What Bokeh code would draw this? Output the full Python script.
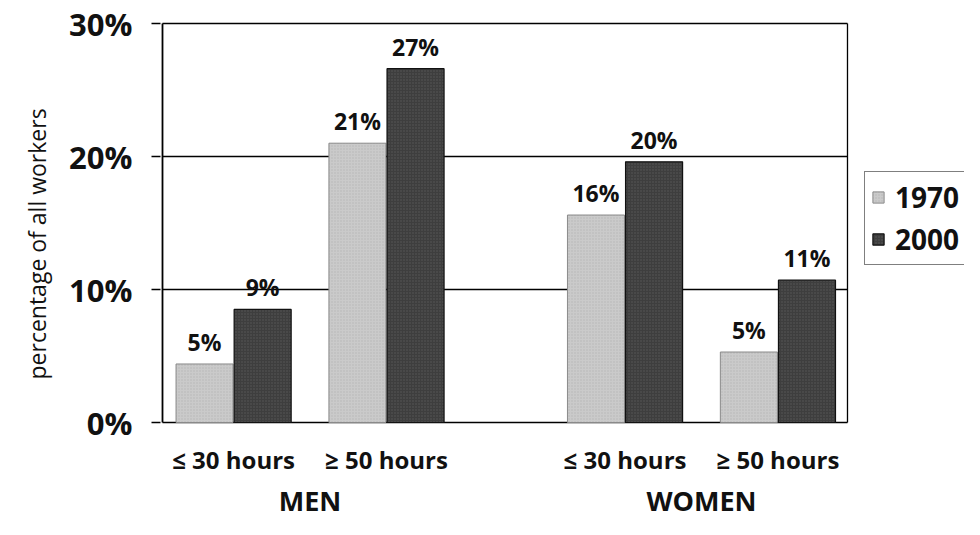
from bokeh.plotting import figure
from bokeh.models import (FixedTicker, Range1d, Legend, LegendItem, Title,
                          ColumnDataSource, PrintfTickFormatter)
from bokeh.embed import file_html
from bokeh.resources import INLINE
from bokeh.core.properties import value

# ---- data ----
genders = ["MEN", "WOMEN"]
hours = ["\u2264 30 hours", "\u2265 50 hours"]
years = ["1970", "2000"]
vals_1970 = [4.4, 21.0, 15.6, 5.3]
vals_2000 = [8.5, 26.6, 19.6, 10.7]
labels_1970 = ["5%", "21%", "16%", "5%"]
labels_2000 = ["9%", "27%", "20%", "11%"]
y_ticks = [0, 10, 20, 30]
y_title = "percentage of all workers"

FONT = "Open Sans"
INK = "#111111"
c1970 = "#cacaca"
c2000 = "#3e3e3e"

# ---- layout (pixel geometry -> data units) ----
W, H = 964, 519
MB_LEFT, MB_TOP = 160, 20
px_x = 152.9          # pixels per x unit
px_y = 13.3           # pixels per y unit (percent)
y_max = y_ticks[-1]
x_plot_end = 4.48     # right border of plotting box
x_start = -2 / px_x
x_end = x_start + (W - MB_LEFT) / px_x
y_end = y_max + 3 / px_y
y_start = y_end - (H - MB_TOP) / px_y

first = 0.465
gender_gap = 2.56
centers, cat_names = [], []
for g, gname in enumerate(genders):
    for s, h in enumerate(hours):
        centers.append(first + s + g * gender_gap)
        cat_names.append(h)
group_centers = [(centers[2 * g] + centers[2 * g + 1]) / 2 for g in range(len(genders))]
bw = 0.373
off = 0.19
cat_label_y = -37 / px_y
group_label_y = -78 / px_y

p = figure(width=W, height=H, output_backend="svg", toolbar_location=None,
           x_range=Range1d(x_start, x_end), y_range=Range1d(y_start, y_end),
           min_border_left=MB_LEFT, min_border_right=0, min_border_top=MB_TOP,
           min_border_bottom=0, x_axis_location=None)
p.outline_line_color = None
p.grid.visible = False
p.background_fill_color = "white"
p.border_fill_color = "white"

# gridlines / frame of the plotting box
p.segment(x0=0, x1=x_plot_end, y0=y_ticks, y1=y_ticks, line_color="black", line_width=1.3)
p.segment(x0=[0, x_plot_end], x1=[0, x_plot_end], y0=0, y1=y_max,
          line_color="black", line_width=[1.8, 1.3])

src1 = ColumnDataSource(dict(x=[c - off for c in centers], top=vals_1970, lab=labels_1970))
src2 = ColumnDataSource(dict(x=[c + off for c in centers], top=vals_2000, lab=labels_2000))
r1 = p.vbar(x="x", top="top", width=bw, bottom=0, source=src1,
            fill_color=c1970, line_color="#8a8a8a", line_width=1,
            hatch_pattern="dot", hatch_color="#a0a0a0", hatch_scale=3, hatch_alpha=0.5)
r2 = p.vbar(x="x", top="top", width=bw, bottom=0, source=src2,
            fill_color=c2000, line_color="#111111", line_width=1.2,
            hatch_pattern="dot", hatch_color="#707070", hatch_scale=3, hatch_alpha=0.5)

for src in (src1, src2):
    p.text(x="x", y="top", text="lab", source=src, text_align="center",
           text_baseline="bottom", y_offset=-6, text_font=value(FONT),
           text_font_size="23px", text_font_style="bold", text_color=INK)

# category and group labels
p.text(x=centers, y=[cat_label_y] * len(centers), text=cat_names,
       text_align="center", text_baseline="middle", text_font=value(FONT),
       text_font_size="24px", text_font_style="bold", text_color=INK)
p.text(x=group_centers, y=[group_label_y] * len(group_centers), text=genders,
       text_align="center", text_baseline="middle", text_font=value(FONT),
       text_font_size="27px", text_font_style="bold", text_color=INK)

# y axis (ticks + labels)
ya = p.yaxis[0]
ya.ticker = FixedTicker(ticks=y_ticks)
ya.formatter = PrintfTickFormatter(format="%d%%")
ya.major_label_text_font = FONT
ya.major_label_text_font_size = "31px"
ya.major_label_text_font_style = "bold"
ya.major_label_text_color = INK
ya.major_tick_in = 0
ya.major_tick_out = 9
ya.major_tick_line_width = 1.3
ya.minor_tick_line_color = None
ya.minor_tick_out = 0
ya.major_label_standoff = 19
ya.axis_line_color = None
ya.axis_label_standoff = 0

t = Title(text=y_title, align="left", offset=140, standoff=27,
          text_font=FONT, text_font_size="23px", text_font_style="normal",
          text_color=INK)
p.add_layout(t, "left")

legend = Legend(items=[LegendItem(label=years[0], renderers=[r1]),
                       LegendItem(label=years[1], renderers=[r2])],
                location=(704, 254))
legend.label_text_font = FONT
legend.label_text_font_size = "28px"
legend.label_text_font_style = "bold"
legend.label_text_color = INK
legend.glyph_width = 14
legend.glyph_height = 14
legend.spacing = 4
legend.padding = 6
legend.margin = 0
legend.border_line_color = "black"
legend.border_line_width = 1.2
legend.label_standoff = 10
p.add_layout(legend)

open("out.html", "w").write(file_html(p, INLINE))
